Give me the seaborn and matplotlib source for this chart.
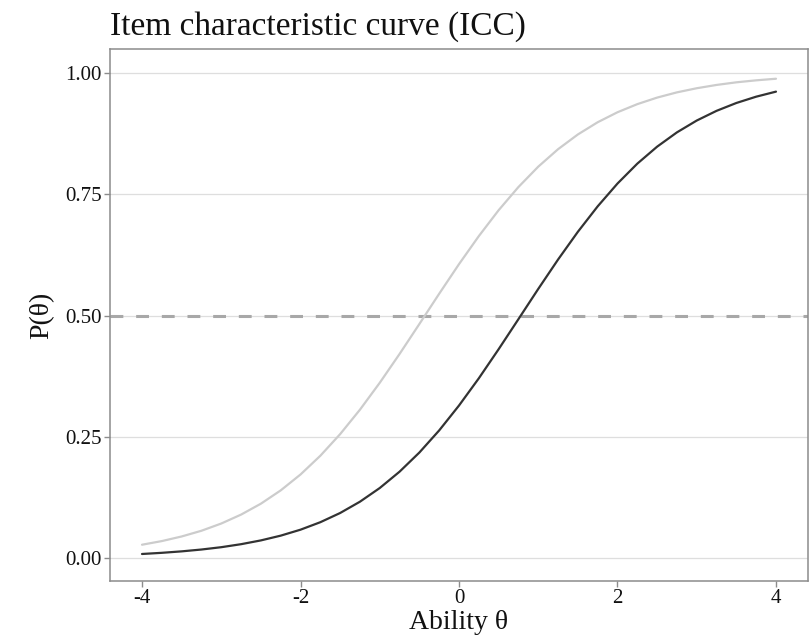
import numpy as np
import pandas as pd
import matplotlib
matplotlib.use("Agg")
import matplotlib.pyplot as plt
import seaborn as sns

# Ability grid and response probabilities for the two items
theta = [-4.0, -3.75, -3.5, -3.25, -3.0, -2.75, -2.5, -2.25, -2.0, -1.75, -1.5,
         -1.25, -1.0, -0.75, -0.5, -0.25, 0.0, 0.25, 0.5, 0.75, 1.0, 1.25, 1.5,
         1.75, 2.0, 2.25, 2.5, 2.75, 3.0, 3.25, 3.5, 3.75, 4.0]

p_easy = [0.0274, 0.0349, 0.0444, 0.0562, 0.0711, 0.0895, 0.1120, 0.1394,
          0.1722, 0.2108, 0.2554, 0.3058, 0.3613, 0.4207, 0.4825, 0.5449,
          0.6059, 0.6637, 0.7171, 0.7649, 0.8069, 0.8429, 0.8733, 0.8985,
          0.9191, 0.9358, 0.9493, 0.9601, 0.9686, 0.9754, 0.9808, 0.9849, 0.9882]

p_hard = [0.0083, 0.0107, 0.0137, 0.0175, 0.0223, 0.0285, 0.0363, 0.0461,
          0.0584, 0.0738, 0.0928, 0.1161, 0.1443, 0.1780, 0.2175, 0.2631,
          0.3144, 0.3705, 0.4305, 0.4925, 0.5548, 0.6154, 0.6726, 0.7251,
          0.7721, 0.8131, 0.8481, 0.8776, 0.9020, 0.9220, 0.9382, 0.9512, 0.9616]

y_ticks = [0.00, 0.25, 0.50, 0.75, 1.00]
y_tick_labels = ["0.00", "0.25", "0.50", "0.75", "1.00"]
x_ticks = [-4, -2, 0, 2, 4]
x_tick_labels = ["-4", "-2", "0", "2", "4"]
half_line = 0.5

df = pd.DataFrame({
    "theta": theta * 2,
    "p": p_easy + p_hard,
    "item": ["easy"] * len(theta) + ["hard"] * len(theta),
})

sns.set_theme(style="white")
plt.rcParams["font.family"] = ["Liberation Serif", "DejaVu Serif"]

fig = plt.figure(figsize=(8.1, 6.4), dpi=100)
ax = fig.add_axes([110 / 810, 1 - 581 / 640, (808 - 110) / 810, (581 - 49) / 640])

for yv in y_ticks:
    ax.axhline(yv, color="#dedede", lw=0.9, zorder=0)

ax.axhline(half_line, color="#a8a8a8", lw=2.2, dashes=(4.2, 4.2), zorder=1)

sns.lineplot(data=df, x="theta", y="p", hue="item",
             palette={"easy": "#cccccc", "hard": "#333333"},
             linewidth=1.6, legend=False, ax=ax, zorder=2)

ax.set_xlim(-4.404, 4.404)
ax.set_ylim(-0.0474, 1.0495)
ax.set_xticks(x_ticks)
ax.set_xticklabels(x_tick_labels)
ax.set_yticks(y_ticks)
ax.set_yticklabels(y_tick_labels)

for s in ax.spines.values():
    s.set_visible(True)
    s.set_color("#8c8c8c")
    s.set_linewidth(1.1)

ax.tick_params(axis="both", which="major", length=4, width=1.0, color="#8c8c8c",
               labelsize=15, labelcolor="#111111", pad=2, bottom=True, left=True)

ax.set_xlabel("Ability θ", fontsize=20, color="#111111", labelpad=1)
ax.set_ylabel("P(θ)", fontsize=20, color="#111111", labelpad=8)
ax.set_title("Item characteristic curve (ICC)", fontsize=24, loc="left",
             color="#111111", pad=10)
ax.title.set_position((0.0, 1.0))

fig.savefig("out.png", dpi=100)
